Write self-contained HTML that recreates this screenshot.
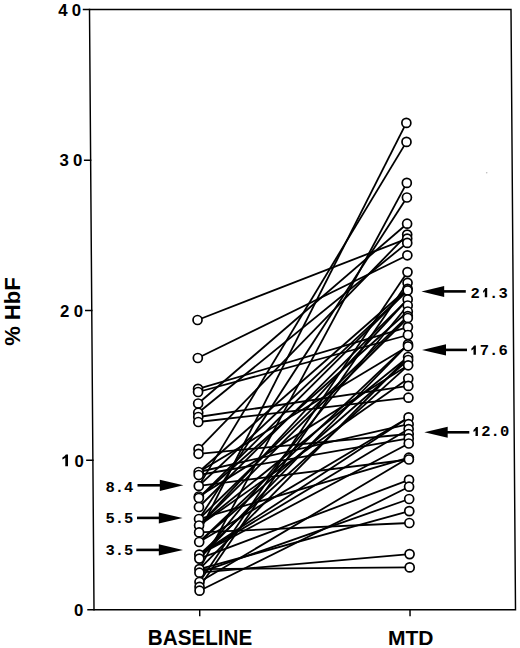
<!DOCTYPE html>
<html><head><meta charset="utf-8"><style>
html,body{margin:0;padding:0;background:#fff;width:520px;height:648px;overflow:hidden}
svg{display:block}
.t{font-family:"Liberation Sans",sans-serif;font-weight:bold;fill:#000}
.m{font-family:"Liberation Mono",monospace;font-weight:bold;fill:#000}
</style></head><body>
<svg width="520" height="648" viewBox="0 0 520 648">
<g transform="matrix(1 0 0.0075 1 -0.0675 0)">
<g fill="none" stroke="#000" stroke-width="1.45" stroke-linecap="square">
<path d="M89.5 9.4 H511 V609.8 H89.5 Z"/>
<path d="M83.5 9.4 H89.5 M83.5 160.2 H89.5 M83.5 310.4 H89.5 M83.5 460.2 H89.5 M83.5 609.8 H89.5"/>
<path d="M195.2 609.8 V615.5 M405.5 609.8 V615.5"/>
</g>
<g stroke="#000" stroke-width="1.8" fill="none">
<line x1="195.2" y1="320" x2="405.5" y2="238.6"/>
<line x1="195.2" y1="358" x2="405.5" y2="255.3"/>
<line x1="195.2" y1="388.9" x2="405.5" y2="327.1"/>
<line x1="195.2" y1="392" x2="405.5" y2="335"/>
<line x1="195.2" y1="403.5" x2="405.5" y2="223.7"/>
<line x1="195.2" y1="412.7" x2="405.5" y2="242.9"/>
<line x1="195.2" y1="417" x2="405.5" y2="385.9"/>
<line x1="195.2" y1="422" x2="405.5" y2="397.7"/>
<line x1="195.2" y1="532.4" x2="405.5" y2="523"/>
<line x1="195.2" y1="572.7" x2="405.5" y2="554.1"/>
<line x1="195.2" y1="569.1" x2="405.5" y2="567.4"/>
<line x1="195.2" y1="453.8" x2="405.5" y2="434"/>
<line x1="195.2" y1="532.4" x2="405.5" y2="122.9"/>
<line x1="195.2" y1="485.9" x2="405.5" y2="141.9"/>
<line x1="195.2" y1="569.1" x2="405.5" y2="182.9"/>
<line x1="195.2" y1="519" x2="405.5" y2="197.5"/>
<line x1="195.2" y1="507" x2="405.5" y2="299.4"/>
<line x1="195.2" y1="485.9" x2="405.5" y2="290.4"/>
<line x1="195.2" y1="590.7" x2="405.5" y2="486.7"/>
<line x1="195.2" y1="485.9" x2="405.5" y2="459.5"/>
<line x1="195.2" y1="498" x2="405.5" y2="290.4"/>
<line x1="195.2" y1="558.6" x2="405.5" y2="344.4"/>
<line x1="195.2" y1="542" x2="405.5" y2="344.4"/>
<line x1="195.2" y1="472" x2="405.5" y2="424.2"/>
<line x1="195.2" y1="496.5" x2="405.5" y2="365.3"/>
<line x1="195.2" y1="525.5" x2="405.5" y2="357"/>
<line x1="195.2" y1="525.5" x2="405.5" y2="318"/>
<line x1="195.2" y1="525.5" x2="405.5" y2="378.5"/>
<line x1="195.2" y1="558.6" x2="405.5" y2="305.5"/>
<line x1="195.2" y1="525.5" x2="405.5" y2="299.4"/>
<line x1="195.2" y1="582" x2="405.5" y2="272.1"/>
<line x1="195.2" y1="569.1" x2="405.5" y2="511.1"/>
<line x1="195.2" y1="586.9" x2="405.5" y2="282.8"/>
<line x1="195.2" y1="475" x2="405.5" y2="438.4"/>
<line x1="195.2" y1="554.6" x2="405.5" y2="365.3"/>
<line x1="195.2" y1="554.6" x2="405.5" y2="429.1"/>
<line x1="195.2" y1="519" x2="405.5" y2="457.7"/>
<line x1="195.2" y1="569.1" x2="405.5" y2="357"/>
<line x1="195.2" y1="519" x2="405.5" y2="316.1"/>
<line x1="195.2" y1="542" x2="405.5" y2="360"/>
<line x1="195.2" y1="572.7" x2="405.5" y2="499"/>
<line x1="195.2" y1="449.1" x2="405.5" y2="234.6"/>
<line x1="195.2" y1="472" x2="405.5" y2="346.3"/>
<line x1="195.2" y1="498" x2="405.5" y2="311.5"/>
<line x1="195.2" y1="542" x2="405.5" y2="417.4"/>
<line x1="195.2" y1="472" x2="405.5" y2="288.8"/>
<line x1="195.2" y1="582" x2="405.5" y2="457.7"/>
<line x1="195.2" y1="558.6" x2="405.5" y2="479.9"/>
<line x1="195.2" y1="554.6" x2="405.5" y2="417.4"/>
<line x1="195.2" y1="554.6" x2="405.5" y2="443.5"/>
</g>
<g stroke="#000" stroke-width="1.7" fill="#fff">
<circle cx="195.2" cy="320" r="4.5"/>
<circle cx="195.2" cy="358" r="4.5"/>
<circle cx="195.2" cy="388.9" r="4.5"/>
<circle cx="195.2" cy="392" r="4.5"/>
<circle cx="195.2" cy="403.5" r="4.5"/>
<circle cx="195.2" cy="412.7" r="4.5"/>
<circle cx="195.2" cy="417" r="4.5"/>
<circle cx="195.2" cy="422" r="4.5"/>
<circle cx="195.2" cy="449.1" r="4.5"/>
<circle cx="195.2" cy="453.8" r="4.5"/>
<circle cx="195.2" cy="472" r="4.5"/>
<circle cx="195.2" cy="475" r="4.5"/>
<circle cx="195.2" cy="485.9" r="4.5"/>
<circle cx="195.2" cy="496.5" r="4.5"/>
<circle cx="195.2" cy="498" r="4.5"/>
<circle cx="195.2" cy="507" r="4.5"/>
<circle cx="195.2" cy="519" r="4.5"/>
<circle cx="195.2" cy="525.5" r="4.5"/>
<circle cx="195.2" cy="532.4" r="4.5"/>
<circle cx="195.2" cy="542" r="4.5"/>
<circle cx="195.2" cy="554.6" r="4.5"/>
<circle cx="195.2" cy="558.6" r="4.5"/>
<circle cx="195.2" cy="569.1" r="4.5"/>
<circle cx="195.2" cy="572.7" r="4.5"/>
<circle cx="195.2" cy="582" r="4.5"/>
<circle cx="195.2" cy="586.9" r="4.5"/>
<circle cx="195.2" cy="590.7" r="4.5"/>
<circle cx="405.5" cy="122.9" r="4.5"/>
<circle cx="405.5" cy="141.9" r="4.5"/>
<circle cx="405.5" cy="182.9" r="4.5"/>
<circle cx="405.5" cy="197.5" r="4.5"/>
<circle cx="405.5" cy="223.7" r="4.5"/>
<circle cx="405.5" cy="234.6" r="4.5"/>
<circle cx="405.5" cy="238.6" r="4.5"/>
<circle cx="405.5" cy="242.9" r="4.5"/>
<circle cx="405.5" cy="255.3" r="4.5"/>
<circle cx="405.5" cy="272.1" r="4.5"/>
<circle cx="405.5" cy="282.8" r="4.5"/>
<circle cx="405.5" cy="288.8" r="4.5"/>
<circle cx="405.5" cy="290.4" r="4.5"/>
<circle cx="405.5" cy="299.4" r="4.5"/>
<circle cx="405.5" cy="305.5" r="4.5"/>
<circle cx="405.5" cy="311.5" r="4.5"/>
<circle cx="405.5" cy="316.1" r="4.5"/>
<circle cx="405.5" cy="318" r="4.5"/>
<circle cx="405.5" cy="327.1" r="4.5"/>
<circle cx="405.5" cy="335" r="4.5"/>
<circle cx="405.5" cy="344.4" r="4.5"/>
<circle cx="405.5" cy="346.3" r="4.5"/>
<circle cx="405.5" cy="357" r="4.5"/>
<circle cx="405.5" cy="360" r="4.5"/>
<circle cx="405.5" cy="365.3" r="4.5"/>
<circle cx="405.5" cy="378.5" r="4.5"/>
<circle cx="405.5" cy="385.9" r="4.5"/>
<circle cx="405.5" cy="397.7" r="4.5"/>
<circle cx="405.5" cy="417.4" r="4.5"/>
<circle cx="405.5" cy="424.2" r="4.5"/>
<circle cx="405.5" cy="429.1" r="4.5"/>
<circle cx="405.5" cy="434" r="4.5"/>
<circle cx="405.5" cy="438.4" r="4.5"/>
<circle cx="405.5" cy="443.5" r="4.5"/>
<circle cx="405.5" cy="457.7" r="4.5"/>
<circle cx="405.5" cy="459.5" r="4.5"/>
<circle cx="405.5" cy="479.9" r="4.5"/>
<circle cx="405.5" cy="486.7" r="4.5"/>
<circle cx="405.5" cy="499" r="4.5"/>
<circle cx="405.5" cy="511.1" r="4.5"/>
<circle cx="405.5" cy="523" r="4.5"/>
<circle cx="405.5" cy="554.1" r="4.5"/>
<circle cx="405.5" cy="567.4" r="4.5"/>
</g>
</g>
<g class="t" font-size="16.8" letter-spacing="4.3">
<text x="58.2" y="15.6">40</text>
<text x="59.4" y="166.4">30</text>
<text x="60.1" y="316.8">20</text>
<text x="74.6" y="466.5" letter-spacing="0">0</text>
<text x="74" y="616">0</text>
</g>
<path fill="#000" d="M65.9 454.4 H68 V466.3 H65.3 V457.8 Q64 458.9 62.4 459.5 V457.5 Q64.6 456.5 65.9 454.4 Z"/>
<text class="t" font-size="22" x="147.8" y="644.8" textLength="104.5" lengthAdjust="spacingAndGlyphs">BASELINE</text>
<text class="t" font-size="21" x="388" y="644.5">MTD</text>
<text class="t" font-size="22" transform="translate(20.4 345.8) rotate(-90)">% HbF</text>
<g class="m" font-size="15.5">
<text x="105.5" y="491.8">8.4</text>
<text x="105.5" y="523">5.5</text>
<text x="105.5" y="555">3.5</text>
<text x="470.5" y="297.5">2&#160;.3</text>
<text x="470.5" y="354.6">&#160;7.6</text>
<text x="472" y="436.3">&#160;2.0</text>
</g>
<path fill="#000" d="M485.4 287.9 H487.2 V297.2 H484.8 V291.3 Q483.5 292.4 483.1 293.0 V291.0 Q484.1 290.0 485.4 287.9 Z M474.1 345.5 H475.9 V354.7 H473.5 V348.9 Q472.2 350.0 471.4 350.6 V348.6 Q472.8 347.6 474.1 345.5 Z M476.1 427.0 H477.9 V436.0 H475.5 V430.4 Q474.2 431.5 473.5 432.1 V430.1 Q474.8 429.1 476.1 427.0 Z"/>
<g fill="#000" stroke="#000" stroke-width="2.6">
<path d="M137.5 485.3 H161"/><path stroke="none" d="M159.8 479.8 L183.4 485.3 L159.8 490.9 Z"/>
<path d="M137 517.9 H160"/><path stroke="none" d="M158.8 512.4 L182.6 517.9 L158.8 523.5 Z"/>
<path d="M136.3 549.9 H160"/><path stroke="none" d="M158.8 544.3 L183 549.9 L158.8 555.6 Z"/>
<path d="M443 291.4 H465.8"/><path stroke="none" d="M444.2 286 L421.4 291.4 L444.2 297 Z"/>
<path d="M445 349.9 H467"/><path stroke="none" d="M446 344.3 L422 349.9 L446 355.5 Z"/>
<path d="M447 432.3 H469.3"/><path stroke="none" d="M447.7 426.8 L424.3 432.3 L447.7 437.8 Z"/>
</g>
<circle cx="486.7" cy="172.8" r="0.8" fill="#bbb"/>
</svg>
</body></html>
